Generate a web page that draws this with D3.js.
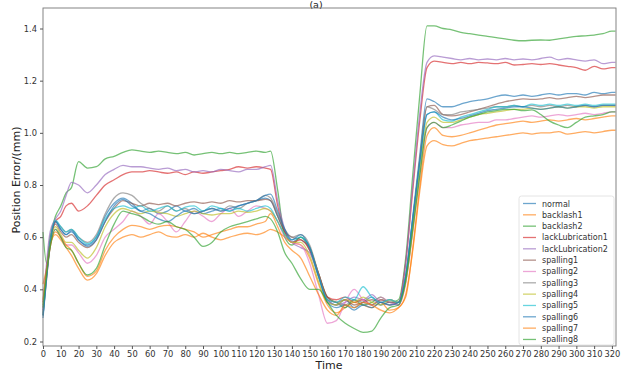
<!DOCTYPE html>
<html><head><meta charset="utf-8">
<script src="https://cdn.jsdelivr.net/npm/d3@7"></script>
<style>body{margin:0;background:#fff}svg{display:block}text{font-family:"DejaVu Sans",sans-serif}</style>
</head><body><svg id="c" width="621" height="373"></svg>
<script>
const times = [0,2,4,7,10,13,16,20,25,30,35,40,45,50,55,60,65,70,75,80,85,90,95,100,105,110,115,120,125,128,132,136,140,145,150,155,160,165,170,175,180,185,190,195,200,204,208,212,216,220,225,230,235,240,245,250,255,260,265,270,275,280,285,290,295,300,305,310,315,320,322];

const seriesNames = ["normal","backlash1","backlash2","lackLubrication1","lackLubrication2","spalling1","spalling2","spalling3","spalling4","spalling5","spalling6","spalling7","spalling8"];
const seriesColors = ["#1f77b4","#ff7f0e","#2ca02c","#d62728","#9467bd","#8c564b","#e377c2","#7f7f7f","#bcbd22","#17becf","#1f77b4","#ff7f0e","#2ca02c"];

const normal = [0.30,0.45,0.58,0.66,0.63,0.61,0.62,0.59,0.57,0.60,0.68,0.73,0.75,0.73,0.70,0.71,0.69,0.70,0.72,0.70,0.71,0.69,0.70,0.71,0.70,0.72,0.73,0.74,0.75,0.74,0.68,0.62,0.58,0.60,0.55,0.45,0.36,0.34,0.36,0.33,0.35,0.37,0.34,0.35,0.34,0.45,0.68,0.92,1.13,1.12,1.10,1.10,1.11,1.12,1.125,1.13,1.14,1.145,1.14,1.145,1.14,1.145,1.15,1.145,1.15,1.15,1.145,1.155,1.15,1.155,1.155];
const backlash1 = [0.42,0.48,0.57,0.61,0.59,0.56,0.53,0.48,0.435,0.46,0.53,0.58,0.60,0.61,0.60,0.61,0.62,0.605,0.60,0.61,0.60,0.615,0.60,0.59,0.60,0.61,0.615,0.61,0.62,0.63,0.62,0.60,0.58,0.57,0.52,0.42,0.34,0.31,0.33,0.35,0.34,0.33,0.35,0.32,0.33,0.38,0.55,0.78,0.95,0.97,0.955,0.95,0.96,0.97,0.975,0.98,0.985,0.99,0.995,1.0,0.995,1.0,1.0,1.005,0.995,1.0,1.005,1.0,1.005,1.01,1.01];
const backlash2 = [0.62,0.50,0.60,0.68,0.72,0.77,0.79,0.89,0.865,0.87,0.90,0.91,0.925,0.935,0.93,0.925,0.93,0.925,0.92,0.925,0.915,0.92,0.925,0.92,0.925,0.92,0.925,0.93,0.925,0.93,0.78,0.60,0.57,0.60,0.56,0.46,0.37,0.35,0.33,0.36,0.34,0.35,0.37,0.35,0.36,0.52,0.84,1.15,1.41,1.41,1.40,1.395,1.385,1.38,1.375,1.37,1.365,1.36,1.355,1.353,1.355,1.356,1.355,1.36,1.365,1.37,1.372,1.375,1.38,1.39,1.39];
const lackLubrication1 = [0.35,0.48,0.58,0.66,0.68,0.72,0.73,0.70,0.72,0.76,0.80,0.82,0.84,0.85,0.85,0.855,0.85,0.845,0.85,0.84,0.85,0.845,0.85,0.855,0.86,0.87,0.865,0.87,0.865,0.86,0.72,0.62,0.58,0.59,0.55,0.46,0.37,0.36,0.37,0.35,0.36,0.34,0.36,0.35,0.35,0.50,0.78,1.05,1.25,1.275,1.27,1.265,1.27,1.265,1.27,1.268,1.265,1.27,1.26,1.262,1.265,1.262,1.265,1.26,1.255,1.25,1.24,1.255,1.245,1.25,1.25];
const lackLubrication2 = [0.32,0.50,0.62,0.67,0.70,0.76,0.81,0.80,0.77,0.80,0.84,0.86,0.875,0.87,0.87,0.865,0.86,0.865,0.855,0.86,0.85,0.855,0.85,0.86,0.855,0.85,0.86,0.86,0.87,0.875,0.74,0.63,0.58,0.56,0.54,0.45,0.36,0.34,0.35,0.37,0.36,0.38,0.35,0.36,0.35,0.50,0.80,1.08,1.27,1.295,1.29,1.285,1.28,1.285,1.28,1.283,1.28,1.285,1.28,1.283,1.28,1.285,1.29,1.28,1.285,1.28,1.275,1.28,1.265,1.27,1.27];
const spalling1 = [0.30,0.44,0.57,0.65,0.62,0.60,0.61,0.58,0.56,0.59,0.66,0.71,0.74,0.73,0.72,0.73,0.725,0.73,0.72,0.73,0.735,0.73,0.735,0.73,0.74,0.735,0.74,0.74,0.745,0.74,0.68,0.62,0.60,0.59,0.56,0.46,0.37,0.35,0.36,0.34,0.35,0.36,0.35,0.34,0.35,0.44,0.66,0.90,1.10,1.105,1.07,1.065,1.07,1.08,1.09,1.10,1.11,1.12,1.125,1.13,1.128,1.13,1.135,1.13,1.135,1.14,1.135,1.14,1.145,1.145,1.145];
const spalling2 = [0.32,0.45,0.56,0.63,0.60,0.57,0.57,0.54,0.50,0.53,0.60,0.63,0.66,0.70,0.68,0.65,0.69,0.66,0.62,0.66,0.70,0.68,0.66,0.69,0.71,0.68,0.70,0.72,0.71,0.70,0.66,0.60,0.58,0.57,0.50,0.38,0.27,0.28,0.35,0.40,0.36,0.34,0.37,0.35,0.34,0.42,0.62,0.84,1.02,1.04,1.02,1.02,1.03,1.035,1.04,1.04,1.05,1.05,1.055,1.06,1.065,1.06,1.065,1.07,1.065,1.07,1.075,1.07,1.075,1.08,1.08];
const spalling3 = [0.31,0.46,0.58,0.66,0.64,0.62,0.63,0.60,0.58,0.61,0.69,0.75,0.77,0.76,0.73,0.71,0.70,0.72,0.70,0.71,0.69,0.70,0.71,0.70,0.72,0.71,0.73,0.74,0.76,0.75,0.69,0.63,0.60,0.61,0.57,0.46,0.36,0.35,0.34,0.36,0.35,0.34,0.36,0.35,0.35,0.45,0.67,0.90,1.10,1.09,1.07,1.07,1.08,1.085,1.09,1.095,1.10,1.10,1.105,1.10,1.105,1.10,1.105,1.10,1.105,1.10,1.105,1.10,1.105,1.105,1.105];
const spalling4 = [0.34,0.46,0.57,0.64,0.61,0.58,0.58,0.55,0.52,0.56,0.64,0.69,0.71,0.70,0.69,0.70,0.695,0.69,0.68,0.69,0.70,0.69,0.685,0.69,0.69,0.70,0.695,0.70,0.71,0.70,0.66,0.61,0.58,0.58,0.53,0.43,0.35,0.34,0.36,0.35,0.37,0.35,0.34,0.36,0.35,0.43,0.63,0.86,1.04,1.06,1.04,1.04,1.05,1.06,1.07,1.075,1.08,1.085,1.09,1.09,1.095,1.09,1.095,1.10,1.095,1.10,1.10,1.095,1.10,1.10,1.10];
const spalling5 = [0.30,0.45,0.58,0.665,0.64,0.62,0.63,0.60,0.575,0.60,0.67,0.71,0.72,0.71,0.72,0.70,0.71,0.72,0.70,0.715,0.72,0.70,0.72,0.71,0.70,0.71,0.70,0.71,0.72,0.71,0.66,0.61,0.59,0.60,0.56,0.45,0.36,0.35,0.37,0.36,0.41,0.37,0.35,0.36,0.35,0.45,0.67,0.89,1.07,1.08,1.05,1.045,1.06,1.07,1.08,1.09,1.10,1.10,1.105,1.10,1.11,1.105,1.11,1.105,1.11,1.105,1.11,1.105,1.11,1.11,1.11];
const spalling6 = [0.29,0.44,0.57,0.66,0.63,0.61,0.625,0.59,0.565,0.59,0.66,0.72,0.745,0.72,0.70,0.69,0.67,0.66,0.68,0.70,0.69,0.70,0.71,0.70,0.71,0.72,0.73,0.74,0.76,0.765,0.70,0.63,0.59,0.61,0.56,0.45,0.35,0.33,0.34,0.32,0.34,0.33,0.35,0.34,0.35,0.45,0.67,0.89,1.07,1.08,1.06,1.05,1.055,1.065,1.075,1.085,1.09,1.095,1.10,1.10,1.095,1.09,1.095,1.10,1.095,1.10,1.105,1.10,1.105,1.105,1.105];
const spalling7 = [0.36,0.47,0.56,0.62,0.60,0.57,0.55,0.50,0.45,0.47,0.55,0.60,0.63,0.645,0.64,0.63,0.64,0.645,0.64,0.63,0.62,0.60,0.61,0.62,0.63,0.64,0.64,0.65,0.66,0.69,0.64,0.58,0.55,0.52,0.45,0.38,0.32,0.30,0.34,0.33,0.35,0.34,0.32,0.31,0.33,0.37,0.56,0.80,0.99,1.02,0.99,0.985,0.99,1.00,1.01,1.02,1.03,1.035,1.04,1.045,1.04,1.045,1.05,1.045,1.05,1.055,1.05,1.055,1.06,1.065,1.065];
const spalling8 = [0.33,0.46,0.56,0.63,0.60,0.56,0.55,0.50,0.455,0.48,0.57,0.65,0.70,0.69,0.68,0.66,0.65,0.66,0.64,0.63,0.60,0.565,0.58,0.62,0.64,0.65,0.66,0.67,0.68,0.67,0.62,0.54,0.50,0.44,0.40,0.40,0.35,0.30,0.27,0.25,0.235,0.24,0.29,0.33,0.34,0.43,0.63,0.84,1.02,1.04,1.02,1.03,1.045,1.06,1.07,1.08,1.085,1.09,1.09,1.085,1.088,1.07,1.045,1.03,1.02,1.04,1.06,1.065,1.07,1.08,1.08];

const seriesValues = [normal,backlash1,backlash2,lackLubrication1,lackLubrication2,spalling1,spalling2,spalling3,spalling4,spalling5,spalling6,spalling7,spalling8];
const xTicks = d3.range(0, 321, 10);
const yTicks = [0.2,0.4,0.6,0.8,1.0,1.2,1.4];

const svg = d3.select("#c");
const L = 43, R = 616, T = 8, B = 346;
const x = d3.scaleLinear().domain([0, 322.3]).range([L, R]);
const y = d3.scaleLinear().domain([0.2, 1.4]).range([341.5, 28.5]);

// title
svg.append("text").attr("x", 316).attr("y", 7.5).attr("text-anchor","middle").attr("font-size",9.5).attr("fill","#222").text("(a)");

const line = d3.line().x((d,i)=>x(times[i])).y(d=>y(d)).curve(d3.curveMonotoneX);
const g = svg.append("g");
seriesValues.forEach((vals, k) => {
  g.append("path").datum(vals).attr("d", line).attr("fill","none")
    .attr("stroke", seriesColors[k]).attr("stroke-width",1.3).attr("stroke-opacity",0.65);
});

// frame
svg.append("rect").attr("x",L).attr("y",T).attr("width",R-L).attr("height",B-T)
  .attr("fill","none").attr("stroke","#777").attr("stroke-width",0.9);

const xa = svg.append("g").attr("transform",`translate(0,${B})`)
  .call(d3.axisBottom(x).tickValues(xTicks).tickSize(3).tickPadding(2).tickFormat(d3.format("d")));
const ya = svg.append("g").attr("transform",`translate(${L},0)`)
  .call(d3.axisLeft(y).tickValues(yTicks).tickSize(3).tickPadding(3).tickFormat(d3.format(".1f")));
[xa, ya].forEach(a => {
  a.select(".domain").remove();
  a.selectAll("line").attr("stroke","#555");
  a.selectAll("text").attr("font-size",8.3).attr("fill","#333").attr("font-family","DejaVu Sans");
});

svg.append("text").attr("x",329).attr("y",369).attr("text-anchor","middle").attr("font-size",11).attr("fill","#222").text("Time");
svg.append("text").attr("transform","translate(20,180) rotate(-90)").attr("text-anchor","middle").attr("font-size",11).attr("fill","#222").text("Position Error/(mm)");

// legend
const lg = svg.append("g");
lg.append("rect").attr("x",519).attr("y",196).attr("width",95).attr("height",149).attr("rx",2.5)
  .attr("fill","#fff").attr("fill-opacity",0.8).attr("stroke","#ddd").attr("stroke-width",0.8);
seriesNames.forEach((n,k) => {
  const yy = 203.5 + k*11.33;
  lg.append("line").attr("x1",523).attr("x2",536).attr("y1",yy).attr("y2",yy)
    .attr("stroke",seriesColors[k]).attr("stroke-width",1.3).attr("stroke-opacity",0.65);
  lg.append("text").attr("x",542).attr("y",yy+3).attr("font-size",8).attr("fill","#333").text(n);
});
</script></body></html>
